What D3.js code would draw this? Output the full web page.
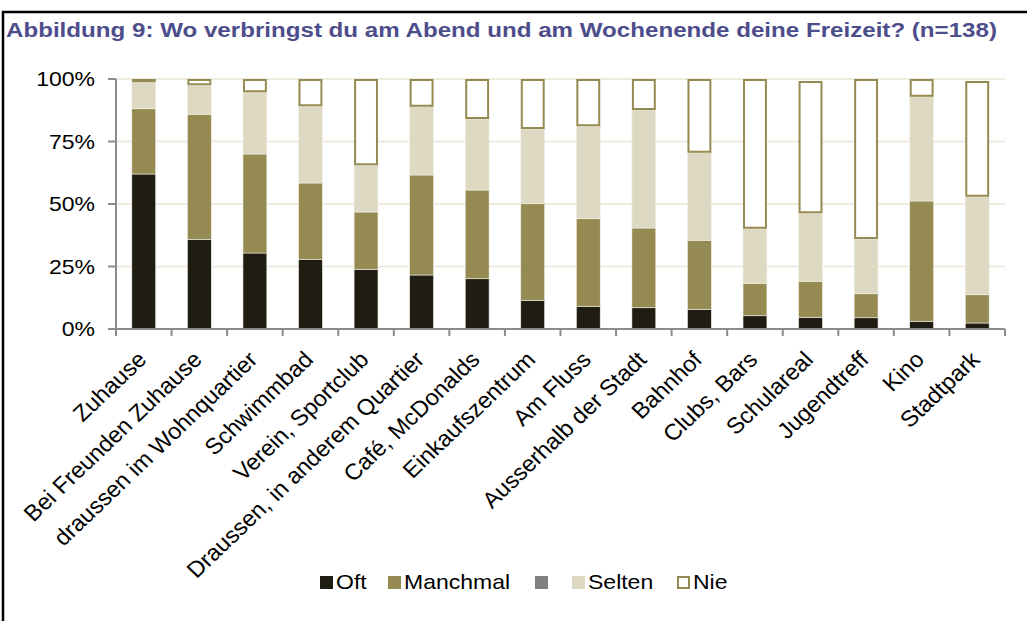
<!DOCTYPE html>
<html>
<head>
<meta charset="utf-8">
<script src="https://cdn.jsdelivr.net/npm/d3@7"></script>
<style>
  body{margin:0;background:#fff;}
  text{font-family:"Liberation Sans",Arial,sans-serif;}
</style>
</head>
<body>
<svg id="chart" width="1027" height="621"></svg>
<script>
"use strict";
// categories and shares (in %)
var categories = ["Zuhause","Bei Freunden Zuhause","draussen im Wohnquartier","Schwimmbad","Verein, Sportclub",
    "Draussen, in anderem Quartier","Café, McDonalds","Einkaufszentrum","Am Fluss","Ausserhalb der Stadt",
    "Bahnhof","Clubs, Bars","Schulareal","Jugendtreff","Kino","Stadtpark"];
var oft      = [62.0,35.9,30.4,27.9,23.9,21.6,20.1,11.5, 9.1, 8.5, 7.9, 5.3, 4.7, 4.5, 3.1, 2.4];
var manchmal = [26.1,50.0,39.6,30.5,22.9,40.0,35.5,38.6,35.0,31.9,27.6,13.0,14.4, 9.6,48.1,11.3];
var keine    = [ 0,   0,   0,   0,   0,   0,   0,   0,   0,   0,   0,   0,   0,   0,   0,   0  ];
var selten   = [10.6,11.6,24.7,30.7,18.7,27.3,28.4,29.9,37.0,47.2,35.0,21.8,27.2,21.9,41.7,39.2];
var nie      = [ 1.3, 2.5, 5.3,10.9,34.5,11.1,16.0,20.0,18.9,12.4,29.5,59.9,52.9,64.0, 7.1,46.3];
var seriesNames = ["Oft","Manchmal","","Selten","Nie"];
var yTicks = [0,25,50,75,100];

var colours = {oft:"#1f1c12",manchmal:"#958a52",keine:"#808080",selten:"#ddd9c3",nie:"#ffffff",
               nieLine:"#958a52",grid:"#eeebdf",axis:"#8c8c8c",title:"#4d4d8c"};
var keys = ["oft","manchmal","keine","selten","nie"];
var stretch = 1.15; //the original picture is a bit wider than tall

var svg = d3.select("#chart");

//frame (only top and left show)
svg.append("path")
    .attr("d","M3,621 L3,12 L1027,12")
    .attr("fill","none")
    .attr("stroke","#000")
    .attr("stroke-width",2.5);

svg.append("text")
    .attr("x",6).attr("y",37)
    .attr("textLength",991).attr("lengthAdjust","spacingAndGlyphs")
    .style("font-size","20px").style("font-weight","bold")
    .style("fill",colours.title)
    .text("Abbildung 9: Wo verbringst du am Abend und am Wochenende deine Freizeit? (n=138)");

var x = d3.scaleBand().domain(categories).range([116,1005]).paddingInner(0.57).paddingOuter(0.285);
var band = d3.scaleBand().domain(categories).range([116,1005]);
var y = d3.scaleLinear().domain([0,100]).range([329,79]);

var table = categories.map(function(c,i){
    return {cat:c,oft:oft[i],manchmal:manchmal[i],keine:keine[i],selten:selten[i],nie:nie[i]};
});
var stacked = d3.stack().keys(keys)(table);

//gridlines
svg.append("g").selectAll("line").data(yTicks.slice(1)).enter().append("line")
    .attr("x1",116).attr("x2",1005)
    .attr("y1",d=>y(d)).attr("y2",d=>y(d))
    .attr("stroke",colours.grid).attr("stroke-width",2);

//bars
var layers = svg.append("g").selectAll("g").data(stacked).enter().append("g");
layers.each(function(layer){
    var k = layer.key;
    var g = d3.select(this);
    g.selectAll("rect").data(layer).enter().append("rect")
        .attr("x",d=> k==="nie" ? x(d.data.cat)+1 : x(d.data.cat))
        .attr("width",d=> k==="nie" ? x.bandwidth()-2 : x.bandwidth())
        .attr("y",d=> k==="nie" ? y(d[1])+1 : y(d[1]))
        .attr("height",d=> Math.max(0, k==="nie" ? y(d[0])-y(d[1])-2 : y(d[0])-y(d[1])))
        .attr("fill",colours[k])
        .attr("stroke",k==="nie" ? colours.nieLine : "#f3f1e8")
        .attr("stroke-width",k==="nie" ? 2 : 0.6);
});

//y axis
var yAxis = svg.append("g");
yAxis.append("line").attr("x1",116).attr("x2",116).attr("y1",79).attr("y2",330)
    .attr("stroke",colours.axis).attr("stroke-width",2);
yAxis.selectAll("line.tick").data(yTicks).enter().append("line").attr("class","tick")
    .attr("x1",108).attr("x2",116).attr("y1",d=>y(d)).attr("y2",d=>y(d))
    .attr("stroke",colours.axis).attr("stroke-width",2);
yAxis.selectAll("text").data(yTicks).enter().append("text")
    .attr("transform",d=>"translate(95,"+(y(d)+7)+") scale("+stretch+",1)")
    .style("text-anchor","end").style("font-size","20px").style("fill","#000")
    .text(d=>d+"%");

//x axis
var xAxis = svg.append("g");
xAxis.append("line").attr("x1",108).attr("x2",1005).attr("y1",329).attr("y2",329)
    .attr("stroke",colours.axis).attr("stroke-width",2);
xAxis.selectAll("line.tick").data(categories.concat([null])).enter().append("line").attr("class","tick")
    .attr("x1",(d,i)=>116+i*band.bandwidth()).attr("x2",(d,i)=>116+i*band.bandwidth())
    .attr("y1",329).attr("y2",336)
    .attr("stroke",colours.axis).attr("stroke-width",2);
xAxis.selectAll("text").data(categories).enter().append("text")
    .attr("transform",d=>"translate("+(x(d)+x.bandwidth()/2+4)+",361) scale(1.05,1) rotate(-45)")
    .style("text-anchor","end").style("font-size","22.5px").style("fill","#000")
    .text(d=>d);

//legend
var legendX = [320,388,535,572,677];
var legend = svg.append("g").selectAll("g").data(keys).enter().append("g")
    .attr("transform",(d,i)=>"translate("+legendX[i]+",576)");
legend.append("rect")
    .attr("x",d=> d==="nie" ? 1 : 0).attr("y",d=> d==="nie" ? 1 : 0)
    .attr("width",d=> d==="nie" ? 11 : 13).attr("height",d=> d==="nie" ? 11 : 13)
    .attr("fill",d=>colours[d])
    .attr("stroke",d=> d==="nie" ? colours.nieLine : "none")
    .attr("stroke-width",2);
legend.append("text")
    .attr("transform","translate(16,13) scale("+stretch+",1)")
    .style("font-size","20px").style("fill","#000")
    .text((d,i)=>seriesNames[i]);
</script>
</body>
</html>
